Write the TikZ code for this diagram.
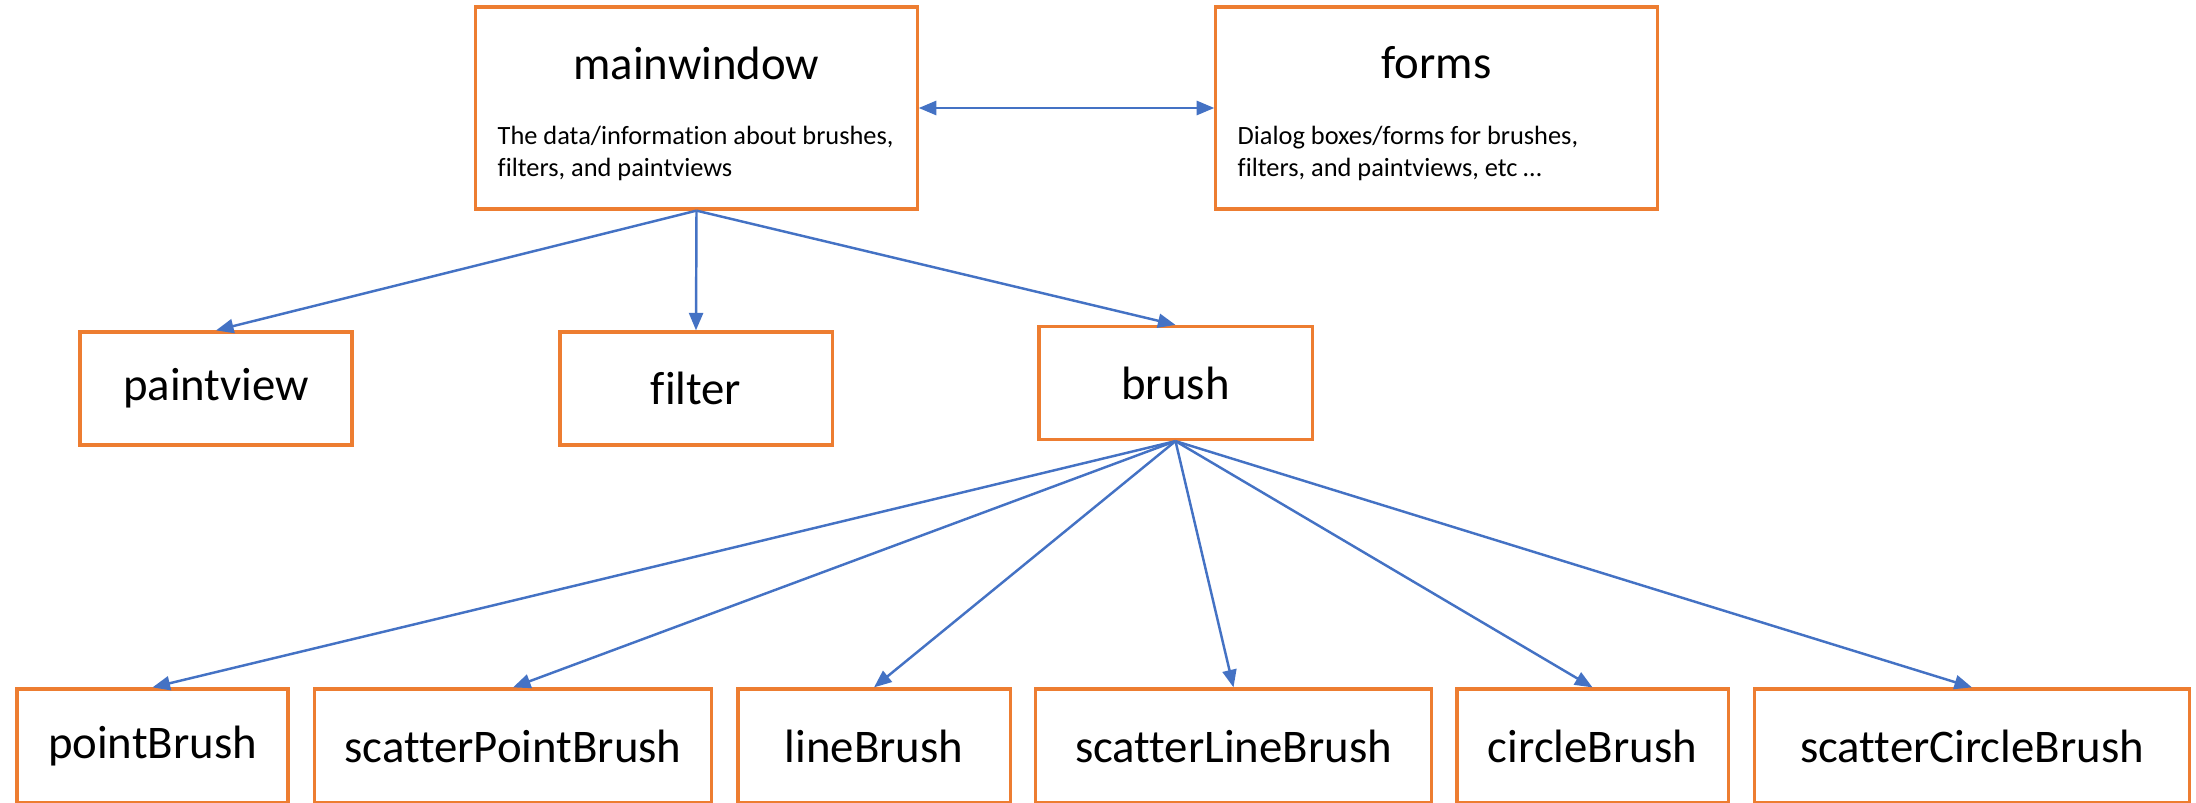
\documentclass[tikz,border=0pt]{standalone}
\usepackage{fontspec}
\setmainfont{Carlito}[Ligatures=NoCommon]
\usetikzlibrary{arrows.meta}

\definecolor{boxorange}{HTML}{ED7D31}
\definecolor{linkblue}{HTML}{4472C4}

\tikzset{
    classbox/.style={draw=boxorange, line width=0.9pt, minimum height=1.13cm, inner sep=0pt},
    classname/.style={font=\fontsize{13.3}{16}\selectfont},
    classnote/.style={font=\fontsize{7.5}{9.1}\selectfont, align=left, inner sep=0pt},
    link/.style={draw=linkblue, line width=0.7pt},
    >={Triangle[length=5pt,width=4pt]},
}

\begin{document}
\begin{tikzpicture}[x=0.01cm, y=-0.01cm]
        \useasboundingbox (0,0) rectangle (2196,803);

        % Main window and the forms
        \node[classbox, minimum width=4.41cm, minimum height=2.02cm] (mainwindow) at (696.5,108) {};
        \node[classname] (mainwindowname) at (696.5,63) {mainwindow};
        \node[classnote, anchor=west] (mainwindownote) at (497,153) {The data/information about brushes,\\filters, and paintviews};

        \node[classbox, minimum width=4.41cm, minimum height=2.02cm] (forms) at (1436.5,108) {};
        \node[classname] (formsname) at (1436.5,63) {forms};
        \node[classnote, anchor=west] (formsnote) at (1237,153) {Dialog boxes/forms for brushes,\\filters, and paintviews, etc \dots};

        \draw[link, <->] (mainwindow) -- (forms);

        % Second level
        \node[classbox, classname, minimum width=2.72cm] (paintview) at (216,388.5) {paintview};
        \node[classbox, classname, minimum width=2.72cm] (filter) at (696,388.5) {filter};
        \node[classbox, classname, minimum width=2.73cm] (brush) at (1175.5,383) {brush};

        \foreach \child in {paintview, filter, brush} {
                \draw[link, ->] (mainwindow.south) -- (\child.north);
            }

        % Brush types
        \node[classbox, classname, minimum width=2.71cm, minimum height=1.14cm] (pointBrush) at (152.5,746) {pointBrush};
        \node[classbox, classname, minimum width=3.96cm, minimum height=1.14cm] (scatterPointBrush) at (513,746) {scatterPointBrush};
        \node[classbox, classname, minimum width=2.72cm, minimum height=1.14cm] (lineBrush) at (874,746) {lineBrush};
        \node[classbox, classname, minimum width=3.95cm, minimum height=1.14cm] (scatterLineBrush) at (1233.5,746) {scatterLineBrush};
        \node[classbox, classname, minimum width=2.71cm, minimum height=1.14cm] (circleBrush) at (1592.5,746) {circleBrush};
        \node[classbox, classname, minimum width=4.34cm, minimum height=1.14cm] (scatterCircleBrush) at (1972,746) {scatterCircleBrush};

        \foreach \child in {pointBrush, scatterPointBrush, lineBrush, scatterLineBrush, circleBrush, scatterCircleBrush} {
                \draw[link, ->] (brush.south) -- (\child.north);
            }
    \end{tikzpicture}
\end{document}
